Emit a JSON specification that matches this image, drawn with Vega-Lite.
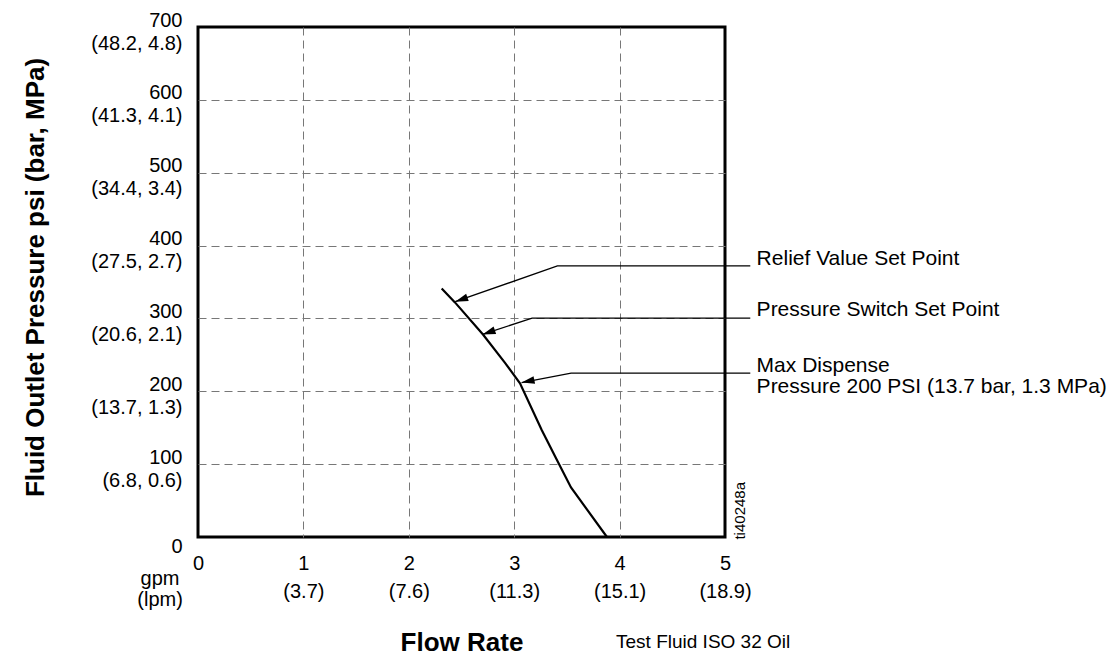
{
  "$schema": "https://vega.github.io/schema/vega-lite/v6.json",
  "width": 527,
  "height": 510,
  "autosize": {"type": "none"},
  "padding": {"left": 198, "top": 27, "right": 395, "bottom": 118},
  "background": "white",
  "config": {
    "view": {"stroke": "black", "strokeWidth": 3},
    "font": "Liberation Sans",
    "text": {"font": "Liberation Sans", "color": "black"}
  },
  "datasets": {
    "curve": [
      {"gpm": 2.312, "psi": 341},
      {"gpm": 2.438, "psi": 322},
      {"gpm": 2.704, "psi": 278},
      {"gpm": 2.913, "psi": 239},
      {"gpm": 3.055, "psi": 211},
      {"gpm": 3.261, "psi": 147},
      {"gpm": 3.397, "psi": 108},
      {"gpm": 3.539, "psi": 68},
      {"gpm": 3.88, "psi": 0}
    ],
    "leaders": [
      {"id": "relief", "order": 1, "gpm": 5.24, "psi": 372},
      {"id": "relief", "order": 2, "gpm": 3.41, "psi": 372},
      {"id": "relief", "order": 3, "gpm": 2.44, "psi": 323},
      {"id": "switch", "order": 1, "gpm": 5.24, "psi": 300.5},
      {"id": "switch", "order": 2, "gpm": 3.17, "psi": 300.5},
      {"id": "switch", "order": 3, "gpm": 2.70, "psi": 278},
      {"id": "max", "order": 1, "gpm": 5.24, "psi": 225},
      {"id": "max", "order": 2, "gpm": 3.54, "psi": 225},
      {"id": "max", "order": 3, "gpm": 3.07, "psi": 212}
    ],
    "labels": [
      {"id": "relief", "text": "Relief Value Set Point", "gpm": 5.30, "psi": 381},
      {"id": "switch", "text": "Pressure Switch Set Point", "gpm": 5.30, "psi": 312},
      {"id": "max", "text": "Max Dispense\nPressure 200 PSI (13.7 bar, 1.3 MPa)", "gpm": 5.30, "psi": 234.5}
    ],
    "notes": [
      {"text": "gpm\n(lpm)", "gpm": -0.36, "psi": -57.5, "align": "center"},
      {"text": "Test Fluid ISO 32 Oil", "gpm": 3.966, "psi": -144, "align": "left"}
    ],
    "tag": [
      {"text": "ti40248a", "gpm": 5.14, "psi": 36}
    ]
  },
  "layer": [
    {
      "data": {"name": "curve"},
      "mark": {"type": "line", "color": "black", "strokeWidth": 2.2},
      "encoding": {
        "x": {
          "field": "gpm", "type": "quantitative",
          "scale": {"domain": [0, 5], "nice": false, "zero": false},
          "axis": {
            "values": [0, 1, 2, 3, 4, 5],
            "domain": false,
            "ticks": false,
            "grid": true,
            "gridColor": "#777777",
            "gridDash": [8, 5],
            "gridWidth": 1,
            "gridOpacity": {"condition": {"test": "datum.value == 0 || datum.value == 5", "value": 0}, "value": 1},
            "labelFont": "Liberation Sans",
            "labelFontSize": 20,
            "labelColor": "black",
            "labelBaseline": "top",
            "labelPadding": 16,
            "labelLineHeight": 28,
            "labelFlush": false,
            "labelOverlap": false,
            "labelBound": false,
            "labelExpr": "datum.value == 0 ? '0' : datum.value == 1 ? ['1', '(3.7)'] : datum.value == 2 ? ['2', '(7.6)'] : datum.value == 3 ? ['3', '(11.3)'] : datum.value == 4 ? ['4', '(15.1)'] : ['5', '(18.9)']",
            "title": "Flow Rate",
            "titleFont": "Liberation Sans",
            "titleFontSize": 26,
            "titleFontWeight": "bold",
            "titleColor": "black",
            "titleBaseline": "middle",
            "titleY": 105
          }
        },
        "y": {
          "field": "psi", "type": "quantitative",
          "scale": {"domain": [0, 700], "nice": false, "zero": false},
          "axis": {
            "values": [0, 100, 200, 300, 400, 500, 600, 700],
            "domain": false,
            "ticks": false,
            "grid": true,
            "gridColor": "#777777",
            "gridDash": [8, 5],
            "gridWidth": 1,
            "gridOpacity": {"condition": {"test": "datum.value == 0 || datum.value == 700", "value": 0}, "value": 1},
            "labelFont": "Liberation Sans",
            "labelFontSize": 20,
            "labelColor": "black",
            "labelAlign": "right",
            "labelBaseline": "middle",
            "labelPadding": 16,
            "labelLineHeight": 23,
            "labelOffset": {"condition": {"test": "datum.value == 0", "value": 9}, "value": -7},
            "labelFlush": false,
            "labelOverlap": false,
            "labelBound": false,
            "labelExpr": "datum.value == 0 ? '0' : datum.value == 100 ? ['100', '(6.8, 0.6)'] : datum.value == 200 ? ['200', '(13.7, 1.3)'] : datum.value == 300 ? ['300', '(20.6, 2.1)'] : datum.value == 400 ? ['400', '(27.5, 2.7)'] : datum.value == 500 ? ['500', '(34.4, 3.4)'] : datum.value == 600 ? ['600', '(41.3, 4.1)'] : ['700', '(48.2, 4.8)']",
            "title": "Fluid Outlet Pressure psi (bar, MPa)",
            "titleFont": "Liberation Sans",
            "titleFontSize": 26,
            "titleFontWeight": "bold",
            "titleColor": "black",
            "titleAngle": -90,
            "titleBaseline": "middle",
            "titleAlign": "center",
            "titleX": -163,
            "titleY": 250
          }
        }
      }
    },
    {
      "data": {"name": "leaders"},
      "mark": {"type": "line", "color": "black", "strokeWidth": 1.3},
      "encoding": {
        "x": {"field": "gpm", "type": "quantitative"},
        "y": {"field": "psi", "type": "quantitative"},
        "detail": {"field": "id"},
        "order": {"field": "order"}
      }
    },
    {
      "data": {"name": "leaders"},
      "transform": [{"filter": "datum.id == 'relief' && datum.order == 3"}],
      "mark": {"type": "point", "shape": "M0,0 L-0.6,2 L0.6,2 Z", "filled": true, "color": "black", "opacity": 1, "size": 169, "angle": 250.6},
      "encoding": {
        "x": {"field": "gpm", "type": "quantitative"},
        "y": {"field": "psi", "type": "quantitative"}
      }
    },
    {
      "data": {"name": "leaders"},
      "transform": [{"filter": "datum.id == 'switch' && datum.order == 3"}],
      "mark": {"type": "point", "shape": "M0,0 L-0.6,2 L0.6,2 Z", "filled": true, "color": "black", "opacity": 1, "size": 169, "angle": 250.9},
      "encoding": {
        "x": {"field": "gpm", "type": "quantitative"},
        "y": {"field": "psi", "type": "quantitative"}
      }
    },
    {
      "data": {"name": "leaders"},
      "transform": [{"filter": "datum.id == 'max' && datum.order == 3"}],
      "mark": {"type": "point", "shape": "M0,0 L-0.6,2 L0.6,2 Z", "filled": true, "color": "black", "opacity": 1, "size": 169, "angle": 258.5},
      "encoding": {
        "x": {"field": "gpm", "type": "quantitative"},
        "y": {"field": "psi", "type": "quantitative"}
      }
    },
    {
      "data": {"name": "labels"},
      "mark": {"type": "text", "align": "left", "baseline": "top", "fontSize": 21, "lineBreak": "\n", "lineHeight": 21, "dy": -11},
      "encoding": {
        "x": {"field": "gpm", "type": "quantitative"},
        "y": {"field": "psi", "type": "quantitative"},
        "text": {"field": "text"}
      }
    },
    {
      "data": {"name": "notes"},
      "transform": [{"filter": "datum.align == 'center'"}],
      "mark": {"type": "text", "align": "center", "baseline": "middle", "fontSize": 20, "lineBreak": "\n", "lineHeight": 21},
      "encoding": {
        "x": {"field": "gpm", "type": "quantitative"},
        "y": {"field": "psi", "type": "quantitative"},
        "text": {"field": "text"}
      }
    },
    {
      "data": {"name": "notes"},
      "transform": [{"filter": "datum.align == 'left'"}],
      "mark": {"type": "text", "align": "left", "baseline": "middle", "fontSize": 19},
      "encoding": {
        "x": {"field": "gpm", "type": "quantitative"},
        "y": {"field": "psi", "type": "quantitative"},
        "text": {"field": "text"}
      }
    },
    {
      "data": {"name": "tag"},
      "mark": {"type": "text", "align": "center", "baseline": "middle", "fontSize": 15, "angle": 270},
      "encoding": {
        "x": {"field": "gpm", "type": "quantitative"},
        "y": {"field": "psi", "type": "quantitative"},
        "text": {"field": "text"}
      }
    }
  ]
}
